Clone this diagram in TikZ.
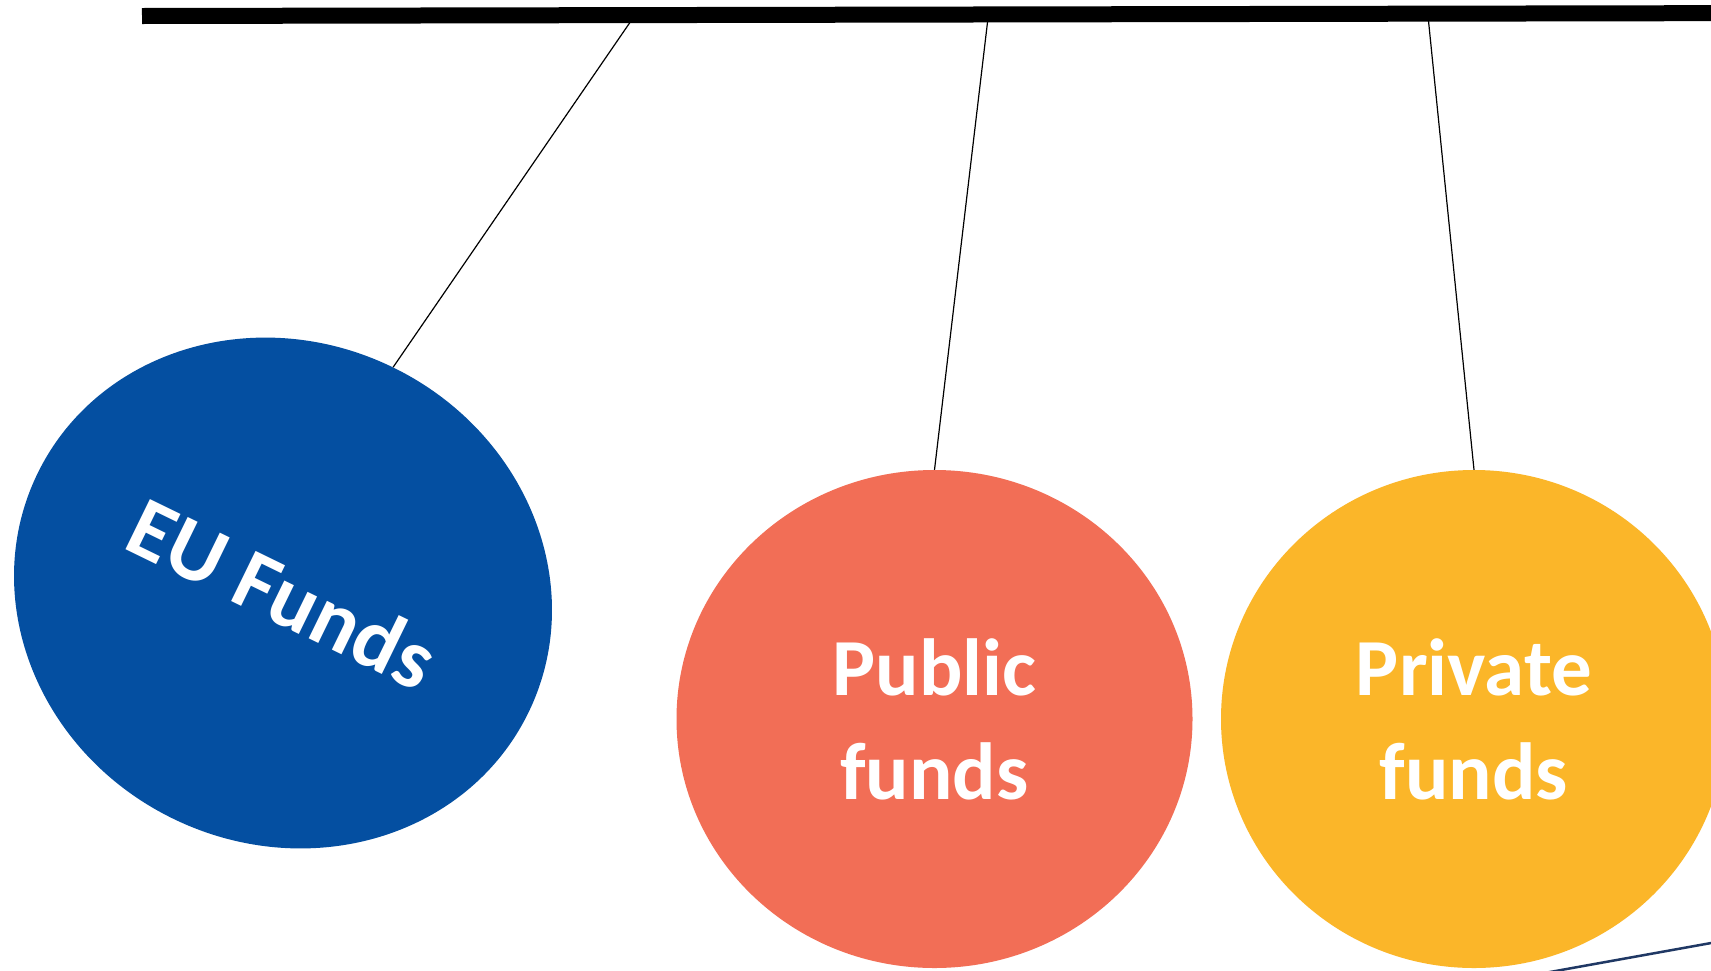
\documentclass[tikz,border=0pt]{standalone}
\usepackage{fontspec}
\setmainfont{Carlito}
\usetikzlibrary{shapes.geometric}
\definecolor{eublue}{RGB}{4,79,161}
\definecolor{salmon}{RGB}{242,110,86}
\definecolor{amber}{RGB}{251,182,41}
\definecolor{navy}{RGB}{31,56,100}
\tikzset{
  fundball/.style={ellipse, inner sep=0pt, text=white, align=center,
    font=\bfseries\fontsize{81}{104}\selectfont},
  hanger/.style={draw=black, line width=1.2pt},
}
\begin{document}
\begin{tikzpicture}[x=1pt,y=-1pt]
\useasboundingbox (0,0) rectangle (1711,970);
\clip (0,0) rectangle (1711,970);
\fill[white] (0,0) rectangle (1711,970);
% bar anchor points
\coordinate (barL) at (142,16);
\coordinate (barR) at (1800,13);
\coordinate (hEU) at (633,18);
\coordinate (hPub) at (988,18);
\coordinate (hPriv) at (1428,16);
% balls
\node[fundball, fill=eublue, minimum width=546pt, minimum height=502pt, rotate=-26,
  font=\bfseries\fontsize{86}{104}\selectfont] (eu) at (283,593) {EU Funds};
\node[fundball, fill=salmon, minimum width=516pt, minimum height=498pt] (pub) at (934.5,719) {Public\\funds};
\node[fundball, fill=amber, minimum width=506pt, minimum height=498pt] (priv) at (1474,719) {Private\\funds};
% hangers
\draw[hanger] (hEU) -- (eu.north);
\draw[hanger] (hPub) -- (pub.north);
\draw[hanger] (hPriv) -- (priv.north);
% bar
\draw[line width=16pt, black] (barL) -- (barR);
% bottom-right line
\coordinate (blA) at (1400,999);
\coordinate (blB) at (1800,927);
\draw[navy, line width=2.5pt] (blA) -- (blB);
\end{tikzpicture}
\end{document}
